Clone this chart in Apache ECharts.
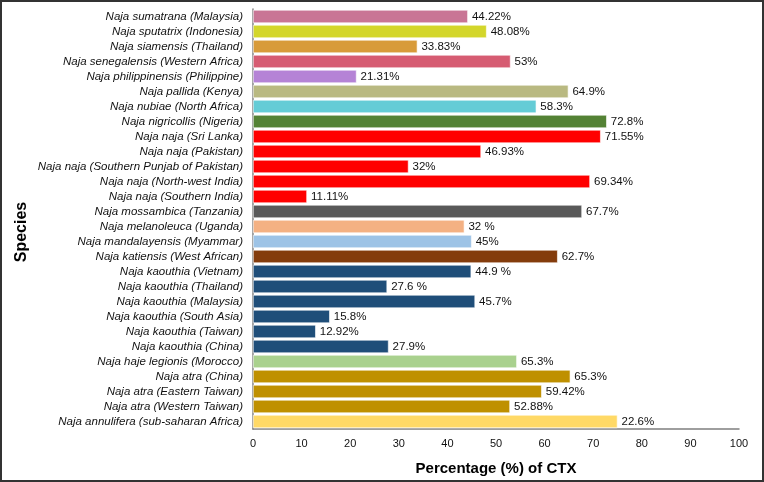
<!DOCTYPE html>
<html>
<head>
<meta charset="utf-8">
<script src="https://cdn.jsdelivr.net/npm/echarts@6/dist/echarts.min.js"></script>
<style>
  html, body { margin: 0; padding: 0; background: #fff; }
  #main { width: 764px; height: 482px; }
</style>
</head>
<body>
<div id="main"></div>
<script>
// species listed top to bottom, as in the figure
var species = [
  'Naja sumatrana (Malaysia)',
  'Naja sputatrix (Indonesia)',
  'Naja siamensis (Thailand)',
  'Naja senegalensis (Western Africa)',
  'Naja philippinensis (Philippine)',
  'Naja pallida (Kenya)',
  'Naja nubiae (North Africa)',
  'Naja nigricollis (Nigeria)',
  'Naja naja (Sri Lanka)',
  'Naja naja (Pakistan)',
  'Naja naja (Southern Punjab of Pakistan)',
  'Naja naja (North-west India)',
  'Naja naja (Southern India)',
  'Naja mossambica (Tanzania)',
  'Naja melanoleuca (Uganda)',
  'Naja mandalayensis (Myammar)',
  'Naja katiensis (West African)',
  'Naja kaouthia (Vietnam)',
  'Naja kaouthia (Thailand)',
  'Naja kaouthia (Malaysia)',
  'Naja kaouthia (South Asia)',
  'Naja kaouthia (Taiwan)',
  'Naja kaouthia (China)',
  'Naja haje legionis (Morocco)',
  'Naja atra (China)',
  'Naja atra (Eastern Taiwan)',
  'Naja atra (Western Taiwan)',
  'Naja annulifera (sub-saharan Africa)'
];

// bar lengths as drawn
var ctxValues = [44.22, 48.08, 33.83, 53, 21.31, 64.9, 58.3, 72.8, 71.55, 46.93,
  32, 69.34, 11.11, 67.7, 43.5, 45, 62.7, 44.9, 27.6, 45.7,
  15.8, 12.92, 27.9, 54.3, 65.3, 59.42, 52.88, 75];

// labels printed next to the bars
var ctxLabels = ['44.22%', '48.08%', '33.83%', '53%', '21.31%', '64.9%', '58.3%', '72.8%',
  '71.55%', '46.93%', '32%', '69.34%', '11.11%', '67.7%', '32 %', '45%', '62.7%',
  '44.9 %', '27.6 %', '45.7%', '15.8%', '12.92%', '27.9%', '65.3%', '65.3%',
  '59.42%', '52.88%', '22.6%'];

var barColors = ['#C97595', '#D3D62B', '#D89B3A', '#D65C72', '#B583D6', '#B9B981',
  '#64CCD6', '#548235', '#FF0000', '#FF0000', '#FF0000', '#FF0000', '#FF0000',
  '#595959', '#F4B183', '#9DC3E6', '#843C0C', '#1F4E79', '#1F4E79', '#1F4E79',
  '#1F4E79', '#1F4E79', '#1F4E79', '#A9D18E', '#BF9000', '#BF9000', '#BF9000',
  '#FFD966'];

var xTicks = [0, 10, 20, 30, 40, 50, 60, 70, 80, 90, 100];

var chart = echarts.init(document.getElementById('main'));

chart.setOption({
  animation: false,
  textStyle: { fontFamily: 'Liberation Sans, Arial, sans-serif' },
  graphic: [{
    type: 'rect',
    shape: { x: 1, y: 1, width: 762, height: 480 },
    style: { fill: 'none', stroke: '#333', lineWidth: 2 },
    silent: true
  }, {
    type: 'text',
    x: 22,
    y: 232,
    rotation: Math.PI / 2,
    style: {
      text: 'Species',
      fontSize: 16,
      fontWeight: 'bold',
      fill: '#000',
      align: 'center',
      verticalAlign: 'middle',
      fontFamily: 'Liberation Sans, Arial, sans-serif'
    },
    silent: true
  }],
  grid: { left: 253, right: 25, top: 9, bottom: 53 },
  xAxis: {
    type: 'value',
    min: xTicks[0],
    max: xTicks[xTicks.length - 1],
    interval: 10,
    name: 'Percentage (%) of CTX',
    nameLocation: 'middle',
    nameGap: 32,
    nameTextStyle: { fontSize: 15, fontWeight: 'bold', color: '#000' },
    axisLine: { show: true, lineStyle: { color: '#7f7f7f', width: 1.5 } },
    axisTick: { show: false },
    splitLine: { show: false },
    axisLabel: { fontSize: 11, color: '#111', margin: 9 }
  },
  yAxis: {
    type: 'category',
    inverse: true,
    data: species,
    axisLine: { show: true, lineStyle: { color: '#7f7f7f', width: 1.5 } },
    axisTick: { show: false },
    axisLabel: { fontSize: 11.5, fontStyle: 'italic', color: '#111', margin: 10, interval: 0 }
  },
  series: [{
    type: 'bar',
    data: ctxValues.map(function (v, i) {
      return { value: v, itemStyle: { color: barColors[i] } };
    }),
    barCategoryGap: '12%',
    itemStyle: { borderColor: '#fff', borderWidth: 0.6 },
    label: {
      show: true,
      position: 'right',
      distance: 4,
      fontSize: 11.5,
      color: '#111',
      formatter: function (p) { return ctxLabels[p.dataIndex]; }
    }
  }]
});
</script>
</body>
</html>
